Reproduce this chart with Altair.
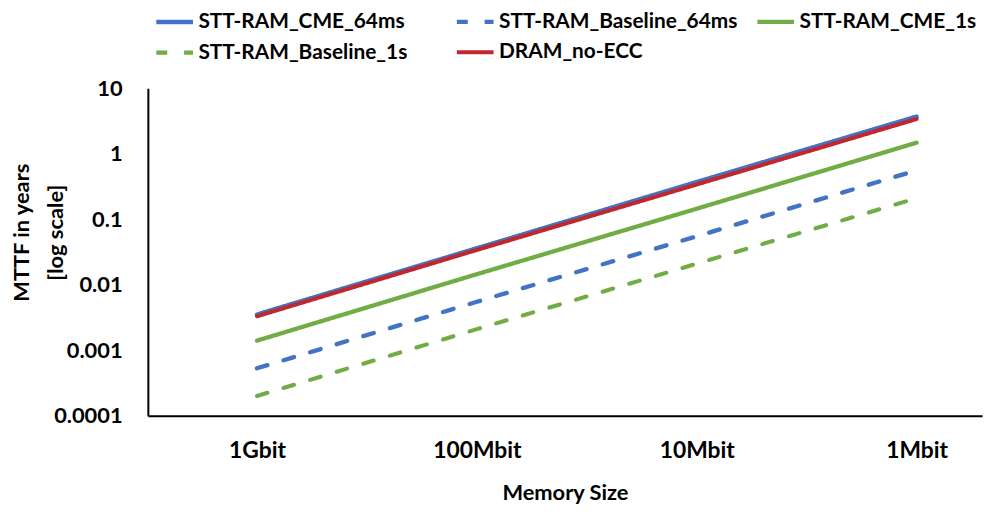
import altair as alt
import pandas as pd

sizes = ["1Gbit", "100Mbit", "10Mbit", "1Mbit"]
series = ["STT-RAM_CME_64ms", "STT-RAM_Baseline_64ms", "STT-RAM_CME_1s",
          "STT-RAM_Baseline_1s", "DRAM_no-ECC"]
cme_64ms = [0.0035, 0.036, 0.37, 3.7]
baseline_64ms = [0.00053, 0.0055, 0.055, 0.56]
cme_1s = [0.0014, 0.0145, 0.145, 1.48]
baseline_1s = [0.0002, 0.0021, 0.021, 0.21]
dram = [0.0033, 0.034, 0.34, 3.4]
y_ticks = [0.0001, 0.001, 0.01, 0.1, 1, 10]

colors = ["#4472C4", "#4472C4", "#70AD47", "#70AD47", "#C0282D"]
dashes = [[1, 0], [11, 17], [1, 0], [11, 17], [1, 0]]
widths = [4.5, 4, 4, 4, 2.5]

values = [cme_64ms, baseline_64ms, cme_1s, baseline_1s, dram]
rows = []
for si, (name, vals) in enumerate(zip(series, values)):
    for xi, (s, v) in enumerate(zip(sizes, vals)):
        rows.append({"series": name, "size": s, "mttf": v, "order": si})
df = pd.DataFrame(rows)

FONT = "Lato"

chart = alt.Chart(df).mark_line(strokeCap="round").encode(
    x=alt.X("size:N", sort=sizes,
            scale=alt.Scale(type="point", padding=0.397, align=0.625),
            axis=alt.Axis(title="Memory Size", labelAngle=0, ticks=False,
                          domainColor="black", domainWidth=2,
                          labelFont=FONT, labelFontWeight="bold", labelFontSize=23,
                          labelColor="black", labelPadding=24,
                          titleFont=FONT, titleFontWeight="bold", titleFontSize=22,
                          titleColor="black", titlePadding=20)),
    y=alt.Y("mttf:Q",
            scale=alt.Scale(type="log", domain=[0.0001, 10], nice=False),
            axis=alt.Axis(values=y_ticks, format="~g", ticks=False, grid=False,
                          domainColor="black", domainWidth=2,
                          labelFont=FONT, labelFontWeight="bold", labelFontSize=22,
                          labelColor="black", labelPadding=26,
                          title=["MTTF in years", "[log scale]"],
                          titleFont=FONT, titleFontWeight="bold", titleFontSize=22,
                          titleColor="black", titleAngle=270, titleAlign="center",
                          titleBaseline="alphabetic", titleLineHeight=34,
                          titleX=-120, titleY=145)),
    color=alt.Color("series:N", scale=alt.Scale(domain=series, range=colors),
                    legend=alt.Legend(orient="none", legendX=6, legendY=-88,
                                      direction="horizontal", columns=3, title=None,
                                      labelFont=FONT, labelFontWeight="bold",
                                      labelFontSize=21, labelColor="black",
                                      symbolType="stroke", symbolSize=1369,
                                      gridAlign="all",
                                      columnPadding=10, rowPadding=0,
                                      labelOffset=3, labelLimit=400, padding=0)),
    strokeDash=alt.StrokeDash("series:N", scale=alt.Scale(domain=series, range=dashes)),
    strokeWidth=alt.StrokeWidth("series:N", scale=alt.Scale(domain=series, range=widths)),
    order=alt.Order("order:Q"),
    detail="series:N",
).properties(
    width=841, height=330,
    autosize=alt.AutoSizeParams(type="none"),
    padding={"left": 141, "top": 79, "right": 8, "bottom": 90},
).configure_view(stroke="transparent")

chart.save("out.html", embed_options={"renderer": "svg", "actions": False})
